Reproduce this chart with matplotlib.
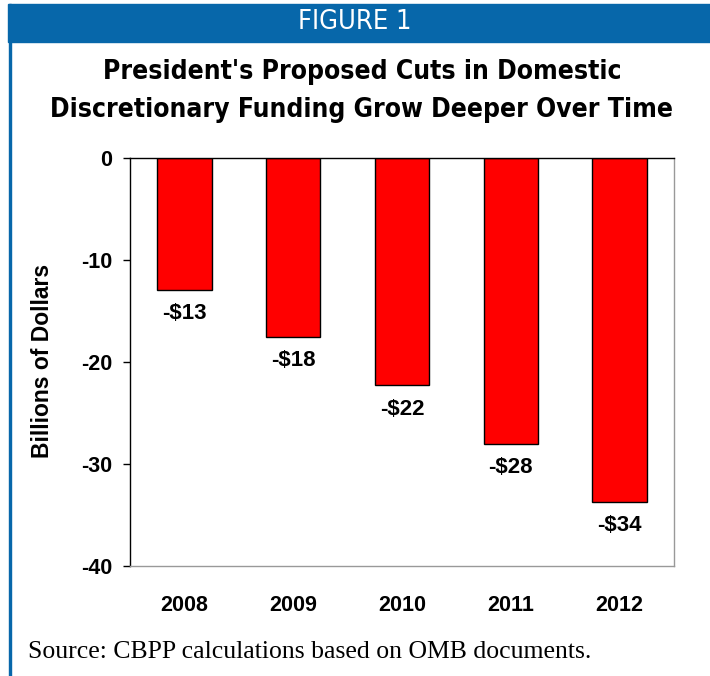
import matplotlib
matplotlib.use("Agg")
import matplotlib.pyplot as plt
from matplotlib.patches import Rectangle

years = ["2008", "2009", "2010", "2011", "2012"]
cuts = [-12.9, -17.5, -22.3, -28.0, -33.7]
bar_labels = ["-$13", "-$18", "-$22", "-$28", "-$34"]
yticks = [0, -10, -20, -30, -40]

blue = "#0767AA"
W, H = 710, 676

fig = plt.figure(figsize=(7.1, 6.76), dpi=100)
plt.rcParams['font.family'] = ['Liberation Sans', 'DejaVu Sans']
narrow = ['DejaVu Sans Condensed', 'DejaVu Sans']

# header band and left border
fig.patches.append(Rectangle((8 / W, 1 - 42 / H), 1 - 8 / W, 38 / H,
                             transform=fig.transFigure, color=blue, zorder=0))
fig.patches.append(Rectangle((8.5 / W, 0), 2.5 / W, 1 - 4 / H,
                             transform=fig.transFigure, color=blue, zorder=0))
fig.text(355 / W, 1 - 22 / H, "FIGURE 1", color="white", fontsize=19.5,
         family=narrow, fontstretch="condensed",
         ha="center", va="center")

fig.text(362 / W, 1 - 72 / H, "President's Proposed Cuts in Domestic",
         fontsize=19, fontweight="bold", family=narrow, fontstretch="condensed",
         ha="center", va="center")
fig.text(362 / W, 1 - 110 / H, "Discretionary Funding Grow Deeper Over Time",
         fontsize=19, fontweight="bold", family=narrow, fontstretch="condensed",
         ha="center", va="center")

ax = fig.add_axes([130 / W, 1 - 566 / H, 544 / W, 408 / H])
x = range(len(years))
ax.bar(x, cuts, width=0.5, color="#FF0000", edgecolor="black", linewidth=1)
for i, (v, lab) in enumerate(zip(cuts, bar_labels)):
    ax.annotate(lab, (i, v), xytext=(0, -17), textcoords="offset points",
                ha="center", va="center", fontsize=16, fontweight="bold")

ax.set_xlim(-0.5, 4.5)
ax.set_ylim(-40, 0)
ax.set_yticks(yticks)
ax.set_yticklabels([str(t) for t in yticks], fontsize=15.5, fontweight="bold")
ax.set_xticks(list(x))
ax.set_xticklabels(years, fontsize=15.5, fontweight="bold")
ax.tick_params(axis="x", length=0, pad=21)
ax.tick_params(axis="y", length=5, width=1, pad=8, color="black")
ax.spines["left"].set_color("black")
ax.spines["top"].set_color("black")
ax.spines["right"].set_color("#999999")
ax.spines["bottom"].set_color("#999999")
for s in ax.spines.values():
    s.set_linewidth(1)

fig.text(43 / W, 1 - 361 / H, "Billions of Dollars", rotation=90,
         fontsize=16.5, fontweight="bold", ha="center", va="center")

fig.text(28 / W, 1 - 652 / H, "Source: CBPP calculations based on OMB documents.",
         fontsize=18.5, family=['Liberation Serif', 'DejaVu Serif'],
         ha="left", va="center")

fig.savefig("out.png", dpi=100)
